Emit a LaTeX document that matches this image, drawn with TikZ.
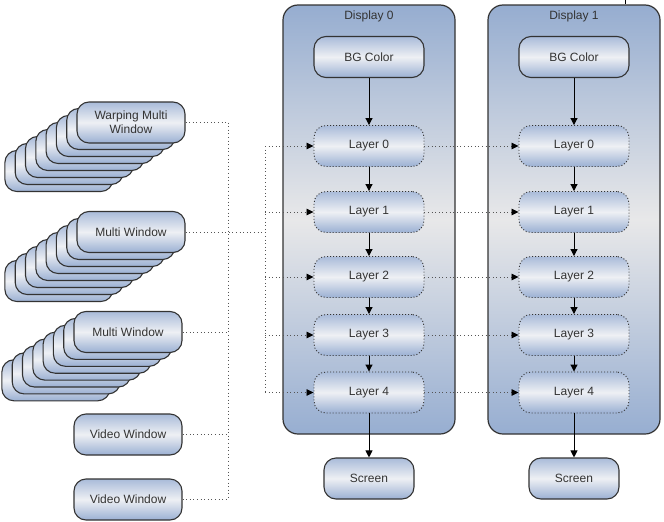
\documentclass[tikz,border=0pt]{standalone}
\usepackage{fontspec}
\setmainfont{Liberation Sans}
\usetikzlibrary{arrows.meta}
\definecolor{btop}{HTML}{A9BBD9}
\definecolor{bmid}{HTML}{EEF0F4}
\definecolor{bbot}{HTML}{9BB0D3}
\definecolor{ptop}{HTML}{96ADD0}
\definecolor{pmid}{HTML}{E8E8E9}
\definecolor{pbot}{HTML}{97AED1}
\definecolor{edge}{HTML}{333333}
\definecolor{txt}{HTML}{333333}
\definecolor{dotc}{HTML}{555555}
\begin{document}
\begin{tikzpicture}[x=1pt,y=-1pt,
  box/.style={draw=edge, line width=1.1pt, rounded corners=12pt,
    top color=btop, bottom color=bbot, middle color=bmid,
    minimum width=110pt, minimum height=41pt, inner sep=0pt,
    text=txt, font=\fontsize{12}{14}\selectfont, align=center},
  winbox/.style={box, minimum width=108pt},
  layerbox/.style={box, dash pattern=on 1pt off 2pt, line width=0.9pt},
  panel/.style={draw=edge, line width=1.2pt, rounded corners=15pt,
    top color=ptop, bottom color=pbot, middle color=pmid,
    minimum width=172pt, minimum height=429pt, inner sep=0pt},
  ptitle/.style={text=txt, font=\fontsize{12}{14}\selectfont, inner sep=0pt},
  arr/.style={draw=black, line width=1pt, -{Triangle[length=7pt,width=7pt]}},
  dotline/.style={draw=dotc, line width=0.8pt, dash pattern=on 1pt off 2.6pt},
  dotarr/.style={dotline, -{Triangle[length=7pt,width=6.5pt,color=black]}}
]
\useasboundingbox (0,0) rectangle (664,522);

% panels
\node[panel] (d0) at (369,219.5) {};
\node[panel] (d1) at (574,219.5) {};
\node[ptitle] (d0t) at (369,16) {Display 0};
\node[ptitle] (d1t) at (574,16) {Display 1};
\coordinate (tk1) at (625,0);
\coordinate (tk2) at (625,4);
\draw[black, line width=1pt] (tk1) -- (tk2);

% display boxes
\foreach \d/\x in {0/369,1/574}{
  \node[box] (bg\d) at (\x,57) {BG Color};
  \node[layerbox] (l\d0) at (\x,146) {Layer 0};
  \node[layerbox] (l\d1) at (\x,212) {Layer 1};
  \node[layerbox] (l\d2) at (\x,277) {Layer 2};
  \node[layerbox] (l\d3) at (\x,335) {Layer 3};
  \node[layerbox] (l\d4) at (\x,392.5) {Layer 4};
  \node[box, minimum width=90pt] (sc\d) at (\x,478.5) {Screen};
  \draw[arr] (bg\d.south) -- (l\d0.north);
  \draw[arr] (l\d0.south) -- (l\d1.north);
  \draw[arr] (l\d1.south) -- (l\d2.north);
  \draw[arr] (l\d2.south) -- (l\d3.north);
  \draw[arr] (l\d3.south) -- (l\d4.north);
  \draw[arr] (l\d4.south) -- (sc\d.north);
}

% stacked windows
\foreach \k in {7,6,...,1}{
  \node[winbox] (wa\k) at ({131-10.3*\k},{122+7*\k}) {};
}
\node[winbox] (wmw) at (131,122.5) {Warping Multi\\Window};
\foreach \k in {7,6,...,1}{
  \node[winbox] (wb\k) at ({131-10.3*\k},{232+7*\k}) {};
}
\node[winbox] (mw1) at (131,232) {Multi Window};
\foreach \k in {7,6,...,1}{
  \node[winbox] (wc\k) at ({128-10.3*\k},{332+6.9*\k}) {};
}
\node[winbox] (mw2) at (128,332) {Multi Window};
\node[winbox] (vw1) at (128,434.5) {Video Window};
\node[winbox] (vw2) at (128,499.5) {Video Window};

% dotted connectors
\coordinate (a1) at (228,122.5);
\coordinate (a2) at (228,232);
\coordinate (a3) at (228,332);
\coordinate (a4) at (228,434.5);
\coordinate (a5) at (228,499.5);
\coordinate (bj) at (265,232);
\coordinate (b0) at (265,146);
\coordinate (b1) at (265,212);
\coordinate (b2) at (265,277);
\coordinate (b3) at (265,335);
\coordinate (b4) at (265,392.5);
\draw[dotline] (wmw.east) -- (a1);
\draw[dotline] (mw1.east) -- (bj);
\draw[dotline] (mw2.east) -- (a3);
\draw[dotline] (vw1.east) -- (a4);
\draw[dotline] (vw2.east) -- (a5);
\draw[dotline] (a1) -- (a5);
\draw[dotline] (b0) -- (b4);
\foreach \i in {0,...,4}{
  \draw[dotarr] (b\i) -- (l0\i.west);
  \draw[dotarr] (l0\i.east) -- (l1\i.west);
}
\end{tikzpicture}
\end{document}
